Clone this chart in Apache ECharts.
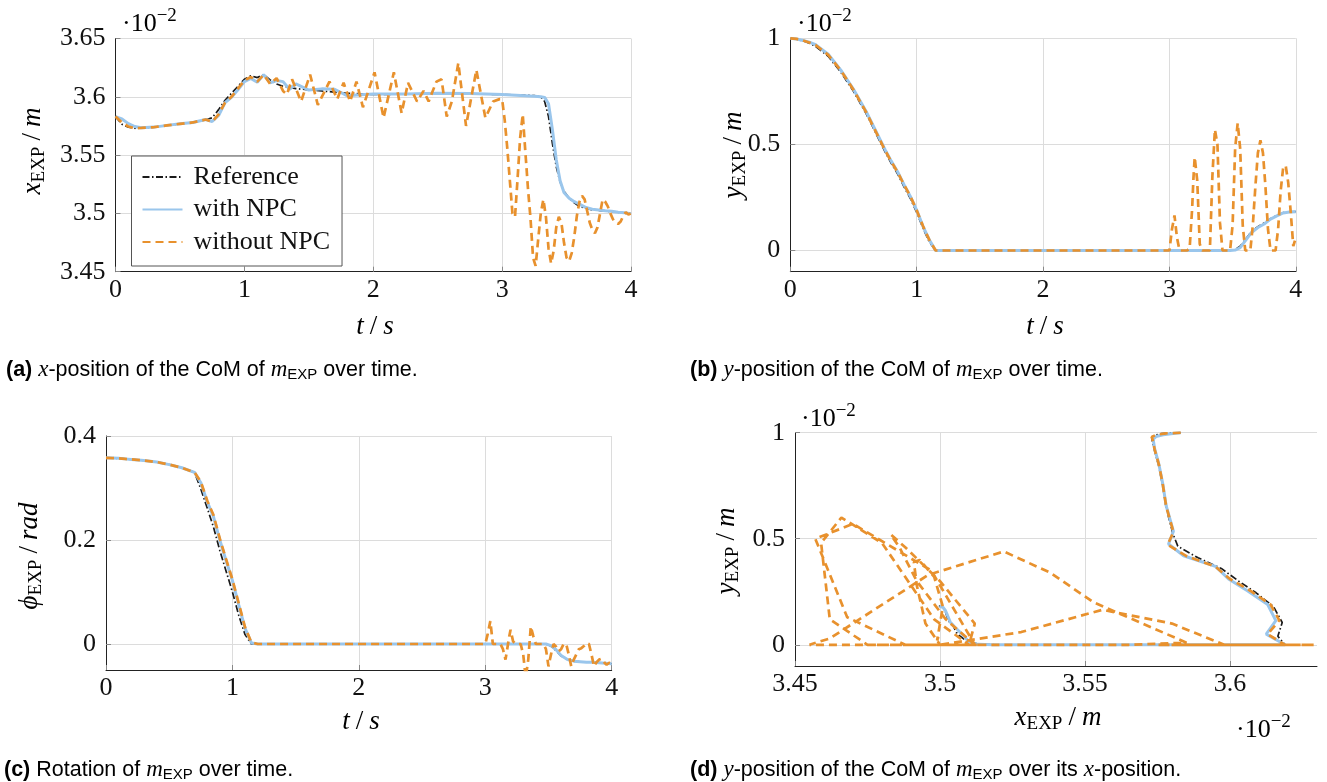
<!DOCTYPE html>
<html><head><meta charset="utf-8">
<script src="https://cdn.jsdelivr.net/npm/echarts@6/dist/echarts.min.js"></script>
<style>html,body{margin:0;padding:0;background:#fff}#c{width:1327px;height:782px}</style>
</head><body><div id="c"></div>
<script>
// ---------- tick values ----------
const tTicks = [0, 1, 2, 3, 4];
const xTicks = [3.45, 3.5, 3.55, 3.6, 3.65];
const yTicks = [0, 0.5, 1];
const phiTicks = [0, 0.2, 0.4];
const xdTicks = [3.45, 3.5, 3.55, 3.6];

// ---------- Reference & with NPC (shared time base, s) ----------
const tSim = [0,0.05,0.1,0.15,0.2,0.3,0.4,0.5,0.6,0.7,0.75,0.8,0.85,0.9,0.95,1.0,1.05,1.1,1.15,
  1.2,1.25,1.3,1.35,1.4,1.5,1.6,1.7,1.8,1.9,2.0,2.25,2.5,2.75,3.0,3.25,3.3,3.33,3.36,3.39,3.42,3.45,3.48,
  3.52,3.56,3.6,3.65,3.7,3.75,3.8,3.85,3.9,3.95,4.0];

const xRef = [3.583,3.5765,3.574,3.573,3.5732,3.574,3.5755,3.5768,3.578,3.5803,3.582,3.589,3.597,3.603,3.609,3.615,3.618,3.6165,3.619,
  3.6145,3.611,3.609,3.608,3.607,3.606,3.605,3.604,3.603,3.6025,3.602,3.6023,3.6025,3.6025,3.602,3.601,3.6,3.596,3.583,3.56,3.54,3.527,3.519,
  3.513,3.509,3.506,3.5045,3.503,3.5025,3.502,3.5015,3.501,3.5003,3.4996];
const yRef = [1,0.996,0.988,0.977,0.962,0.915,0.84,0.75,0.645,0.525,0.465,0.41,0.36,0.3,0.245,0.18,0.105,0.04,0,
  0,0,0,0,0,0,0,0,0,0,0,0,0,0,0,0,0,0,0,0,0,0,0,
  0.004,0.02,0.05,0.09,0.112,0.13,0.15,0.165,0.178,0.182,0.183];
const phiRef = [0.358,0.3575,0.357,0.356,0.355,0.353,0.35,0.345,0.339,0.33,0.298,0.262,0.225,0.18,0.14,0.1,0.055,0.018,0,
  0,0,0,0,0,0,0,0,0,0,0,0,0,0,0,0,0,0,0,0,0,0,0,
  -0.004,-0.013,-0.023,-0.03,-0.033,-0.034,-0.035,-0.035,-0.036,-0.037,-0.038];

const xNpc = [3.583,3.581,3.577,3.5745,3.5735,3.574,3.5755,3.5768,3.578,3.5805,3.5788,3.584,3.595,3.5995,3.606,3.613,3.6158,3.6125,3.619,
  3.612,3.614,3.613,3.6065,3.611,3.6058,3.6068,3.6065,3.6008,3.6018,3.6025,3.6025,3.603,3.6028,3.602,3.6005,3.6,3.5995,3.594,3.572,3.546,3.528,3.518,
  3.513,3.51,3.508,3.505,3.5035,3.503,3.5023,3.5018,3.501,3.5005,3.4998];
const yNpc = [1,0.997,0.99,0.982,0.97,0.925,0.85,0.76,0.655,0.535,0.475,0.42,0.37,0.31,0.255,0.19,0.114,0.05,0,
  0,0,0,0,0,0,0,0,0,0,0,0,0,0,0,0,0,0,0,0,0,0,0,
  0.002,0.013,0.045,0.085,0.108,0.125,0.148,0.163,0.177,0.181,0.182];
const phiNpc = [0.358,0.3575,0.357,0.356,0.355,0.353,0.35,0.345,0.339,0.33,0.31,0.274,0.245,0.2,0.16,0.122,0.075,0.03,0.002,
  0,0,0,0,0,0,0,0,0,0,0,0,0,0,0,0,0,0,0,0,0,0,0,
  -0.003,-0.011,-0.022,-0.03,-0.033,-0.034,-0.035,-0.035,-0.036,-0.037,-0.038];

// ---------- without NPC (own time base, s) ----------
const tNo = [0,0.05,0.1,0.15,0.2,0.3,0.4,0.5,0.6,0.7,0.75,0.8,0.85,0.9,0.95,1.0,1.05,1.1,1.15,1.2,1.25,1.3,
  1.33,1.37,1.44,1.51,1.57,1.66,1.72,1.77,1.82,1.87,1.92,2.01,2.08,2.16,2.22,2.27,2.34,2.39,2.43,2.49,2.53,2.57,2.61,2.66,2.72,2.8,2.87,2.93,2.98,
  3.0,3.02,3.04,3.06,3.08,3.1,3.12,3.14,3.16,3.18,3.19,3.2,3.22,3.24,3.26,3.28,3.3,3.32,3.34,3.36,3.38,3.4,
  3.42,3.44,3.46,3.48,3.5,3.52,3.54,3.56,3.58,3.6,3.62,3.64,3.66,3.68,3.7,3.72,3.74,3.76,3.78,3.8,
  3.82,3.84,3.86,3.88,3.9,3.92,3.94,3.96,3.98,4.0];
const xNo = [3.583,3.578,3.5745,3.573,3.5733,3.574,3.5755,3.5768,3.578,3.5805,3.5785,3.585,3.595,3.6,3.607,3.614,3.617,3.613,3.619,3.611,3.616,3.605,
  3.602,3.615,3.596,3.619,3.593,3.613,3.598,3.612,3.596,3.613,3.591,3.621,3.582,3.621,3.586,3.612,3.596,3.605,3.596,3.613,3.615,3.583,3.596,3.629,3.575,3.623,3.582,3.596,3.598,
  3.598,3.58,3.556,3.528,3.5,3.497,3.53,3.565,3.585,3.553,3.538,3.522,3.496,3.462,3.455,3.478,3.5,3.512,3.497,3.47,3.457,3.468,
  3.488,3.497,3.492,3.475,3.462,3.459,3.466,3.48,3.498,3.51,3.515,3.512,3.502,3.492,3.486,3.483,3.488,3.5,3.512,3.51,
  3.506,3.5,3.495,3.492,3.491,3.493,3.498,3.501,3.499,3.5];
const yNo = [1,0.997,0.99,0.98,0.968,0.922,0.848,0.758,0.652,0.532,0.472,0.418,0.368,0.31,0.255,0.19,0.115,0.05,0,0,0,0,
  0,0,0,0,0,0,0,0,0,0,0,0,0,0,0,0,0,0,0,0,0,0,0,0,0,0,0,0,0,
  0,0.1,0.165,0.06,0,0,0,0,0.01,0.2,0.34,0.44,0.33,0.03,0,0,0,0,0.35,0.57,0.5,0.13,
  0,0,0,0,0.12,0.48,0.6,0.48,0.12,0,0,0,0.12,0.3,0.46,0.52,0.46,0.3,0.1,0,
  0,0,0.1,0.28,0.39,0.4,0.32,0.18,0.02,0.06];
const phiNo = [0.358,0.3575,0.357,0.356,0.355,0.353,0.35,0.345,0.339,0.33,0.312,0.276,0.248,0.203,0.163,0.124,0.078,0.032,0.003,0,0,0,
  0,0,0,0,0,0,0,0,0,0,0,0,0,0,0,0,0,0,0,0,0,0,0,0,0,0,0,0,0,
  0,0.02,0.044,0,0,0,0,-0.01,-0.03,0,0.015,0.0275,0.005,0,0,0,-0.02,-0.065,-0.03,0.034,0.015,0,
  0,0,0,-0.01,-0.043,-0.02,0,-0.005,-0.014,-0.01,0,0,-0.02,-0.043,-0.03,-0.02,-0.01,-0.008,-0.004,0.002,
  0,-0.02,-0.043,-0.035,-0.03,-0.028,-0.035,-0.04,-0.036,-0.038];

// ---------- styling ----------
const SERIF = "'Liberation Serif','DejaVu Serif',serif";
const SANS = "'Liberation Sans','DejaVu Sans',sans-serif";
const C_REF = '#1a1a1a', C_NPC = '#9ac6ec', C_NO = '#e8912d';
const ST = {
  ref: {color: C_REF, width: 1.7, type: [7, 2.5, 1.5, 2.5]},
  npc: {color: C_NPC, width: 3, type: 'solid'},
  no: {color: C_NO, width: 2.7, type: [8, 5]}
};

const zip = (a, b) => a.map((v, i) => [v, b[i]]);

const grids = [
  {left: 115.5, top: 38.5, width: 515.5, height: 233.2},
  {left: 790.3, top: 38.3, width: 505.5, height: 233.4},
  {left: 106, top: 436, width: 505.7, height: 234},
  {left: 795, top: 432.7, width: 522, height: 233.3}
];

function axis(gi, min, max, ticks, isX) {
  return {
    type: 'value', gridIndex: gi, min: min, max: max,
    axisLine: {show: true, onZero: false, lineStyle: {color: '#222', width: 1}},
    axisTick: {show: true, inside: true, length: 5, lineStyle: {color: '#888'}, customValues: ticks},
    axisLabel: {customValues: ticks, margin: isX ? 5 : 10, fontFamily: SERIF, fontSize: 26, color: '#111'},
    splitLine: {show: true, lineStyle: {color: '#dcdcdc', width: 1}}
  };
}

function ser(name, data, gi, key) {
  return {type: 'line', name: name, xAxisIndex: gi, yAxisIndex: gi, data: data,
    symbol: 'none', color: ST[key].color, lineStyle: ST[key], clip: true, animation: false};
}

const RICH = {
  i: {fontFamily: SERIF, fontStyle: 'italic', fontSize: 27, lineHeight: 32, color: '#111'},
  r: {fontFamily: SERIF, fontSize: 27, lineHeight: 32, color: '#111'},
  sl: {fontFamily: SERIF, fontSize: 27, lineHeight: 32, padding: [0, 6, 0, 6], color: '#111'},
  sub: {fontFamily: SERIF, fontSize: 19, lineHeight: 32, padding: [13, 0, 0, 0], color: '#111'},
  sc: {fontFamily: SERIF, fontSize: 26, lineHeight: 32, color: '#111'},
  sup: {fontFamily: SERIF, fontSize: 19, lineHeight: 32, padding: [0, 0, 16, 0], color: '#111'},
  cb: {fontFamily: SANS, fontWeight: 'bold', fontSize: 21.5, lineHeight: 26, color: '#111'},
  c: {fontFamily: SANS, fontSize: 21.5, lineHeight: 26, color: '#111'},
  ci: {fontFamily: SERIF, fontStyle: 'italic', fontSize: 23, lineHeight: 26, color: '#111'},
  cs: {fontFamily: SANS, fontSize: 15, lineHeight: 26, padding: [10, 0, 0, 0], color: '#111'}
};

function txt(text, x, y, opts) {
  opts = opts || {};
  return {type: 'text', x: x, y: y, rotation: opts.rot || 0, silent: true,
    style: {text: text, rich: RICH, align: opts.align || 'center', verticalAlign: 'middle',
      textAlign: opts.align || 'center', textVerticalAlign: 'middle'}};
}

const scale = '{sc|·10}{sup|−2}';
const graphics = [
  txt('{i|x}{sub|EXP}{sl|/}{i|m}', 33, 151, {rot: Math.PI / 2}),
  txt('{i|t}{sl|/}{i|s}', 375, 327),
  txt(scale, 122, 24, {align: 'left'}),
  txt('{i|y}{sub|EXP}{sl|/}{i|m}', 734, 155, {rot: Math.PI / 2}),
  txt('{i|t}{sl|/}{i|s}', 1045, 327),
  txt(scale, 797, 24, {align: 'left'}),
  txt('{i|ϕ}{sub|EXP}{sl|/}{i|rad}', 30, 556, {rot: Math.PI / 2}),
  txt('{i|t}{sl|/}{i|s}', 361, 722),
  txt('{i|y}{sub|EXP}{sl|/}{i|m}', 727, 551, {rot: Math.PI / 2}),
  txt('{i|x}{sub|EXP}{sl|/}{i|m}', 1058, 718),
  txt(scale, 801, 419, {align: 'left'}),
  txt(scale, 1236, 730, {align: 'left'}),
  txt('{cb|(a)}{c| }{ci|x}{c|-position of the CoM of }{ci|m}{cs|EXP}{c| over time.}', 6, 370, {align: 'left'}),
  txt('{cb|(b)}{c| }{ci|y}{c|-position of the CoM of }{ci|m}{cs|EXP}{c| over time.}', 690, 370, {align: 'left'}),
  txt('{cb|(c)}{c| Rotation of }{ci|m}{cs|EXP}{c| over time.}', 4, 770, {align: 'left'}),
  txt('{cb|(d)}{c| }{ci|y}{c|-position of the CoM of }{ci|m}{cs|EXP}{c| over its }{ci|x}{c|-position.}', 690, 770, {align: 'left'})
];

const series = [];
const sets = [
  ['Reference', 'ref', xRef, yRef, phiRef, tSim],
  ['with NPC', 'npc', xNpc, yNpc, phiNpc, tSim],
  ['without NPC', 'no', xNo, yNo, phiNo, tNo]
];
sets.forEach(s => {
  const [name, key, xs, ys, ps, ts] = s;
  series.push(ser(name, zip(ts, xs), 0, key));
  series.push(ser(name, zip(ts, ys), 1, key));
  series.push(ser(name, zip(ts, ps), 2, key));
  series.push(ser(name, zip(xs, ys), 3, key));
});

const option = {
  animation: false,
  backgroundColor: '#fff',
  grid: grids,
  xAxis: [axis(0, 0, 4, tTicks, true), axis(1, 0, 4, tTicks, true), axis(2, 0, 4, tTicks, true), axis(3, 3.45, 3.63, xdTicks, true)],
  yAxis: [axis(0, 3.45, 3.65, xTicks, false), axis(1, -0.1, 1, yTicks, false), axis(2, -0.05, 0.4, phiTicks, false), axis(3, -0.1, 1, yTicks, false)],
  legend: {
    data: ['Reference', 'with NPC', 'without NPC'],
    orient: 'vertical', left: 131.5, top: 156, selectedMode: false,
    itemWidth: 40, itemHeight: 14, itemGap: 6.5,
    padding: [8, 12, 11, 10],
    itemStyle: {opacity: 0},
    backgroundColor: '#fff', borderColor: '#555', borderWidth: 1, borderRadius: 0,
    textStyle: {fontFamily: SERIF, fontSize: 26, color: '#111', lineHeight: 26, padding: [0, 0, 0, 6]}
  },
  graphic: graphics,
  series: series
};

const chart = echarts.init(document.getElementById('c'), null, {renderer: 'canvas'});
chart.setOption(option);
</script></body></html>
